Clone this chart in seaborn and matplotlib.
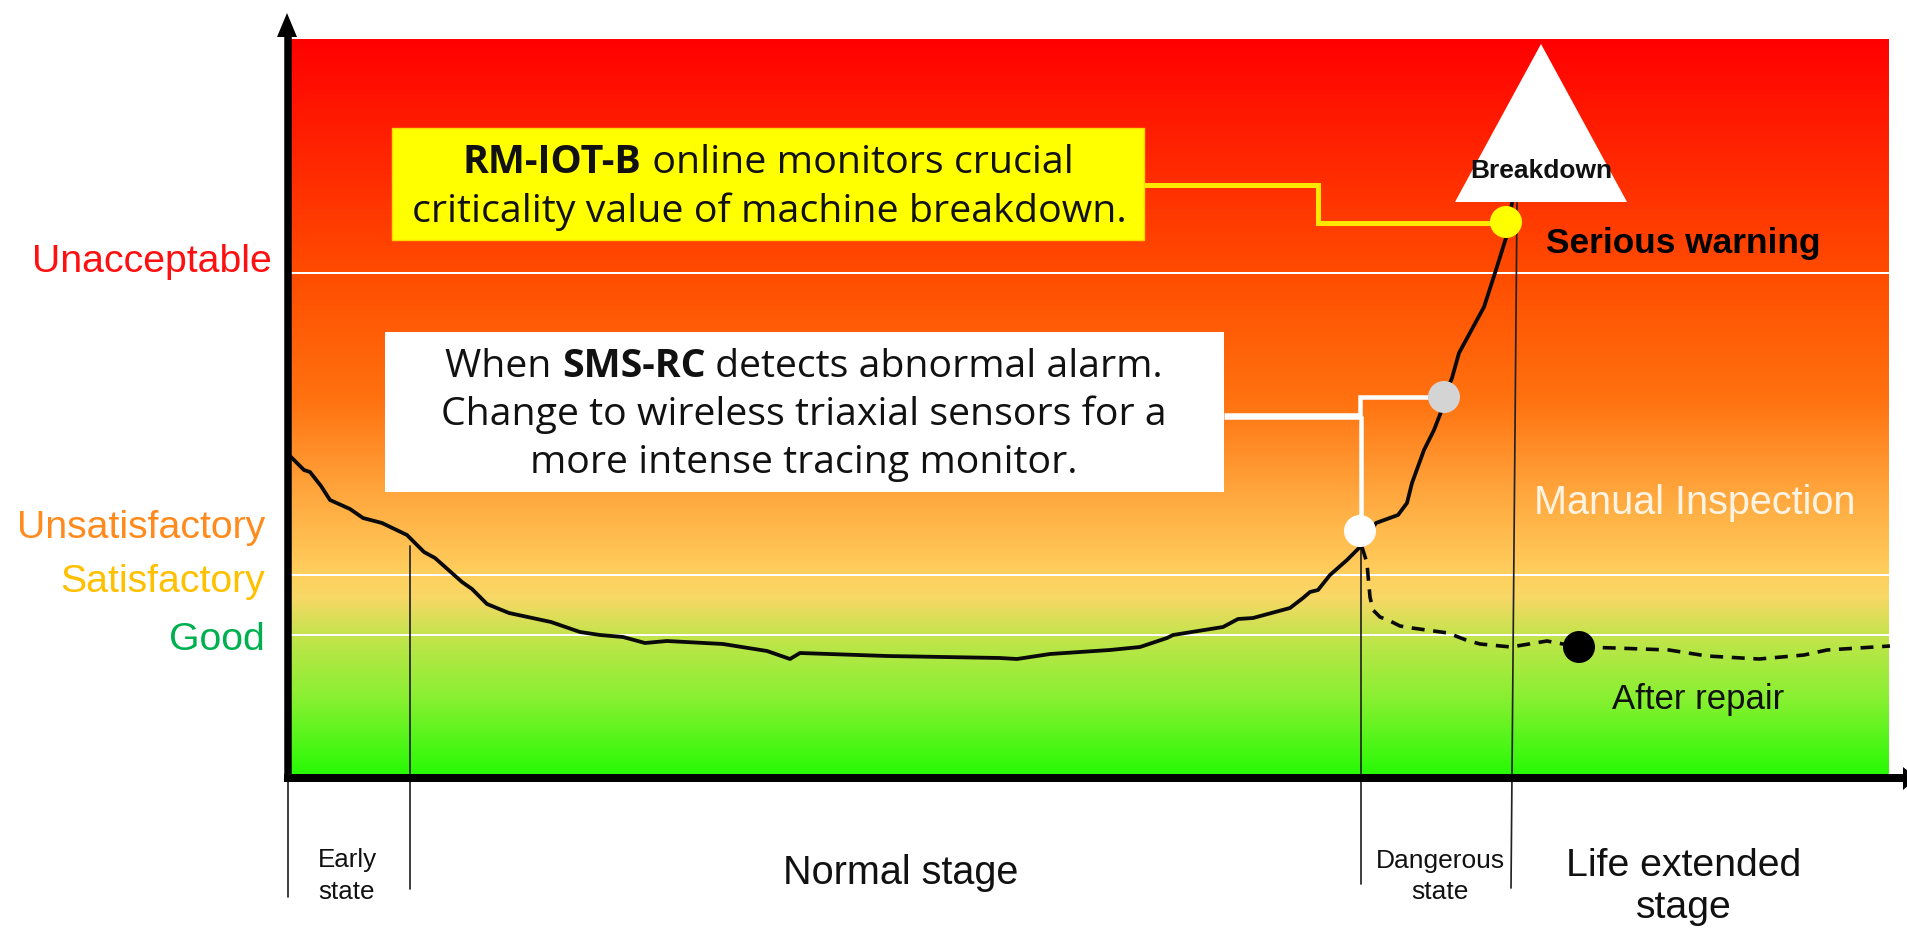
import numpy as np
import pandas as pd
import matplotlib
matplotlib.use("Agg")
import matplotlib.pyplot as plt
from matplotlib.colors import LinearSegmentedColormap
from matplotlib.patches import Polygon, Rectangle
import seaborn as sns

# ---- data (pixel-like coordinates of the reference) ----
curve_x = [291, 304, 310, 321, 330, 350, 363, 382, 407, 424, 435, 462, 472, 487, 509, 551, 580, 600, 623, 645, 667,
           723, 767, 790, 800, 887, 1000, 1017, 1050, 1110, 1140, 1167, 1173, 1223, 1238, 1253, 1290, 1303, 1310,
           1318, 1330, 1347, 1360,
           1376, 1398, 1407, 1412, 1424, 1434, 1441, 1444, 1452, 1459, 1484, 1495, 1506, 1512]
curve_y = [457, 470, 472, 486, 500, 509, 518, 523, 535, 552, 558, 582, 589, 604, 613, 622, 632, 635, 637, 643, 641,
           644, 651, 659, 653, 656, 658, 659, 654, 650, 647, 638, 635, 627, 619, 618, 608, 598, 592,
           590, 575, 560, 547,
           523, 515, 503, 483, 450, 430, 412, 397, 378, 353, 307, 273, 238, 203]
repair_x = [1362, 1367, 1368, 1370, 1373, 1380, 1390, 1400, 1412, 1448, 1466, 1480, 1511, 1547, 1579, 1615, 1669,
            1707, 1759, 1804, 1827, 1890]
repair_y = [547, 563, 575, 597, 610, 617, 621, 626, 628, 633, 640, 644, 647, 641, 647, 648, 650,
            656, 659, 655, 650, 646]

level_y = [273, 575, 635]
level_labels = ["Unacceptable", "Unsatisfactory", "Satisfactory", "Good"]
level_label_y = [262, 528, 582, 640]
level_label_right = [272, 265, 265, 265]
level_colors = ["#FF1010", "#FF8A1E", "#FFC000", "#00B050"]

marker_x = [1506, 1444, 1360, 1579]
marker_y = [222, 397, 531, 647]
marker_names = ["yellow", "grey", "white", "black"]
marker_colors = ["#FFFF00", "#D4D4D4", "#FFFFFF", "#000000"]

grad_pos = [39, 273, 400, 490, 575, 597, 635, 700, 775]
grad_col = ["#FF0000", "#FF4C00", "#FF7210", "#FFA53C", "#FFD05E", "#F8D866", "#C4E44C", "#86F030", "#26FA04"]

# stage separators: (x top, y top, x bottom, y bottom)
separators = [(288, 782, 288, 897), (410, 546, 410, 889), (1361, 546, 1361, 884), (1517, 203, 1511, 888)]

W, H = 1907, 931
PLOT_L, PLOT_R, PLOT_T, PLOT_B = 291, 1889, 39, 776

sns.set_theme(style="white")
fig, ax = plt.subplots(figsize=(W / 100, H / 100), dpi=100)
fig.subplots_adjust(0, 0, 1, 1)
ax.set_xlim(0, W)
ax.set_ylim(H, 0)
ax.axis("off")
PX = 0.72  # one pixel in points

# gradient background
g = np.array(grad_pos, float)
cmap = LinearSegmentedColormap.from_list("bg", [((p - g[0]) / (g[-1] - g[0]), c) for p, c in zip(g, grad_col)], N=512)
ax.imshow(np.linspace(0, 1, 512).reshape(-1, 1), cmap=cmap, aspect="auto",
          extent=(PLOT_L, PLOT_R, PLOT_B, PLOT_T), zorder=1, interpolation="bilinear")
ax.set_xlim(0, W)
ax.set_ylim(H, 0)

for y in level_y:
    ax.plot([PLOT_L, PLOT_R], [y, y], color="white", lw=2 * PX, zorder=2)

for x0, y0, x1, y1 in separators:
    ax.plot([x0, x1], [y0, y1], color="#222222", lw=1.7 * PX, zorder=3)

# curves
curve = pd.DataFrame({"x": curve_x, "y": curve_y})
sns.lineplot(data=curve, x="x", y="y", ax=ax, color="#0A0A0A", lw=3.8 * PX, sort=False, estimator=None, zorder=4,
             solid_joinstyle="round")
repair = pd.DataFrame({"x": repair_x, "y": repair_y})
sns.lineplot(data=repair, x="x", y="y", ax=ax, color="#0A0A0A", lw=3.6 * PX, sort=False, estimator=None,
             linestyle=(0, (3.6, 2.4)), zorder=4)
ax.set_xlabel("")
ax.set_ylabel("")

# axes with arrows
ax.plot([287.5, 287.5], [782, 30], color="black", lw=7.5 * PX, zorder=7, solid_capstyle="butt")
ax.plot([284, 1905], [778, 778], color="black", lw=8 * PX, zorder=7, solid_capstyle="butt")
ax.add_patch(Polygon([(287, 13), (277, 37), (297, 37)], fc="black", ec="none", zorder=7))
ax.add_patch(Polygon([(1903, 767), (1903, 790), (1917, 778)], fc="black", ec="none", zorder=7))

# triangle
ax.add_patch(Polygon([(1541, 44), (1455, 202), (1627, 202)], fc="white", ec="none", zorder=5))

# connectors
ax.plot([1144, 1318, 1318, 1506], [185, 185, 223, 223], color="#FFE800", lw=5 * PX, zorder=5, solid_joinstyle="miter")
ax.plot([1224, 1361], [416, 416], color="white", lw=6.5 * PX, zorder=5, solid_capstyle="butt")
ax.plot([1361, 1361], [416, 531], color="white", lw=4.5 * PX, zorder=5, solid_capstyle="butt")
ax.plot([1360, 1360, 1444], [416, 397, 397], color="white", lw=4.5 * PX, zorder=5, solid_joinstyle="miter")

# boxes
ax.add_patch(Rectangle((392, 128), 752, 112, fc="#FFFF00", ec="#FFD800", lw=1, zorder=5))
ax.add_patch(Rectangle((385, 332), 839, 160, fc="white", ec="none", zorder=5))

# markers
marks = pd.DataFrame({"x": marker_x, "y": marker_y, "name": marker_names})
sns.scatterplot(data=marks, x="x", y="y", hue="name", palette=dict(zip(marker_names, marker_colors)),
                s=(32 * PX) ** 2, linewidth=0, legend=False, ax=ax, zorder=6)
ax.set_xlabel("")
ax.set_ylabel("")
ax.set_xlim(0, W)
ax.set_ylim(H, 0)

ARIAL = "Liberation Sans"
CALL = "Open Sans"

for t, y, r, c in zip(level_labels, level_label_y, level_label_right, level_colors):
    ax.text(r, y, t, ha="right", va="center", fontsize=28.3, color=c, family=ARIAL, zorder=8)


def txt(x, y, s, size, color="#111111", weight="normal", family=ARIAL, ha="center"):
    ax.text(x, y, s, ha=ha, va="center", fontsize=size, color=color, fontweight=weight, family=family, zorder=8)


txt(1541, 171, "Breakdown", 19, weight="bold")
txt(1546, 244, "Serious warning", 25.4, color="black", weight="bold", ha="left")
txt(1695, 503, "Manual Inspection", 28.5, color="#FFF4E4")
txt(1698, 700, "After repair", 25)
txt(347, 860, "Early", 18.7)
txt(347, 892, "state", 18.7)
txt(901, 873, "Normal stage", 28.5)
txt(1440, 861, "Dangerous", 19)
txt(1440, 892, "state", 19)
txt(1684, 866, "Life extended", 28.3)
txt(1684, 908, "stage", 28.3)


def mixed(cx, y, parts, size):
    """One centred line made of (text, bold) runs, placed from measured widths."""
    r = fig.canvas.get_renderer()
    items = [ax.text(0, y, s, fontsize=size, family=CALL, va="baseline", ha="left", color="#111111",
                     fontweight="bold" if b else "normal", zorder=8) for s, b in parts]
    widths = []
    for s, b in parts:
        probe = ax.text(0, y, "|" + s + "|", fontsize=size, family=CALL, fontweight="bold" if b else "normal")
        bar = ax.text(0, y, "||", fontsize=size, family=CALL, fontweight="bold" if b else "normal")
        widths.append(probe.get_window_extent(r).width - bar.get_window_extent(r).width)
        probe.remove()
        bar.remove()
    x = cx - sum(widths) / 2
    for it, w in zip(items, widths):
        it.set_x(x)
        x += w


mixed(768, 173, [("RM-IOT-B", True), (" online monitors crucial", False)], 28.4)
mixed(769, 222, [("criticality value of machine breakdown.", False)], 28.4)
mixed(804, 377, [("When ", False), ("SMS-RC", True), (" detects abnormal alarm.", False)], 28.3)
mixed(804, 425, [("Change to wireless triaxial sensors for a", False)], 28.3)
mixed(804, 473, [("more intense tracing monitor.", False)], 28.3)

fig.savefig("out.png", dpi=100, facecolor="white")
